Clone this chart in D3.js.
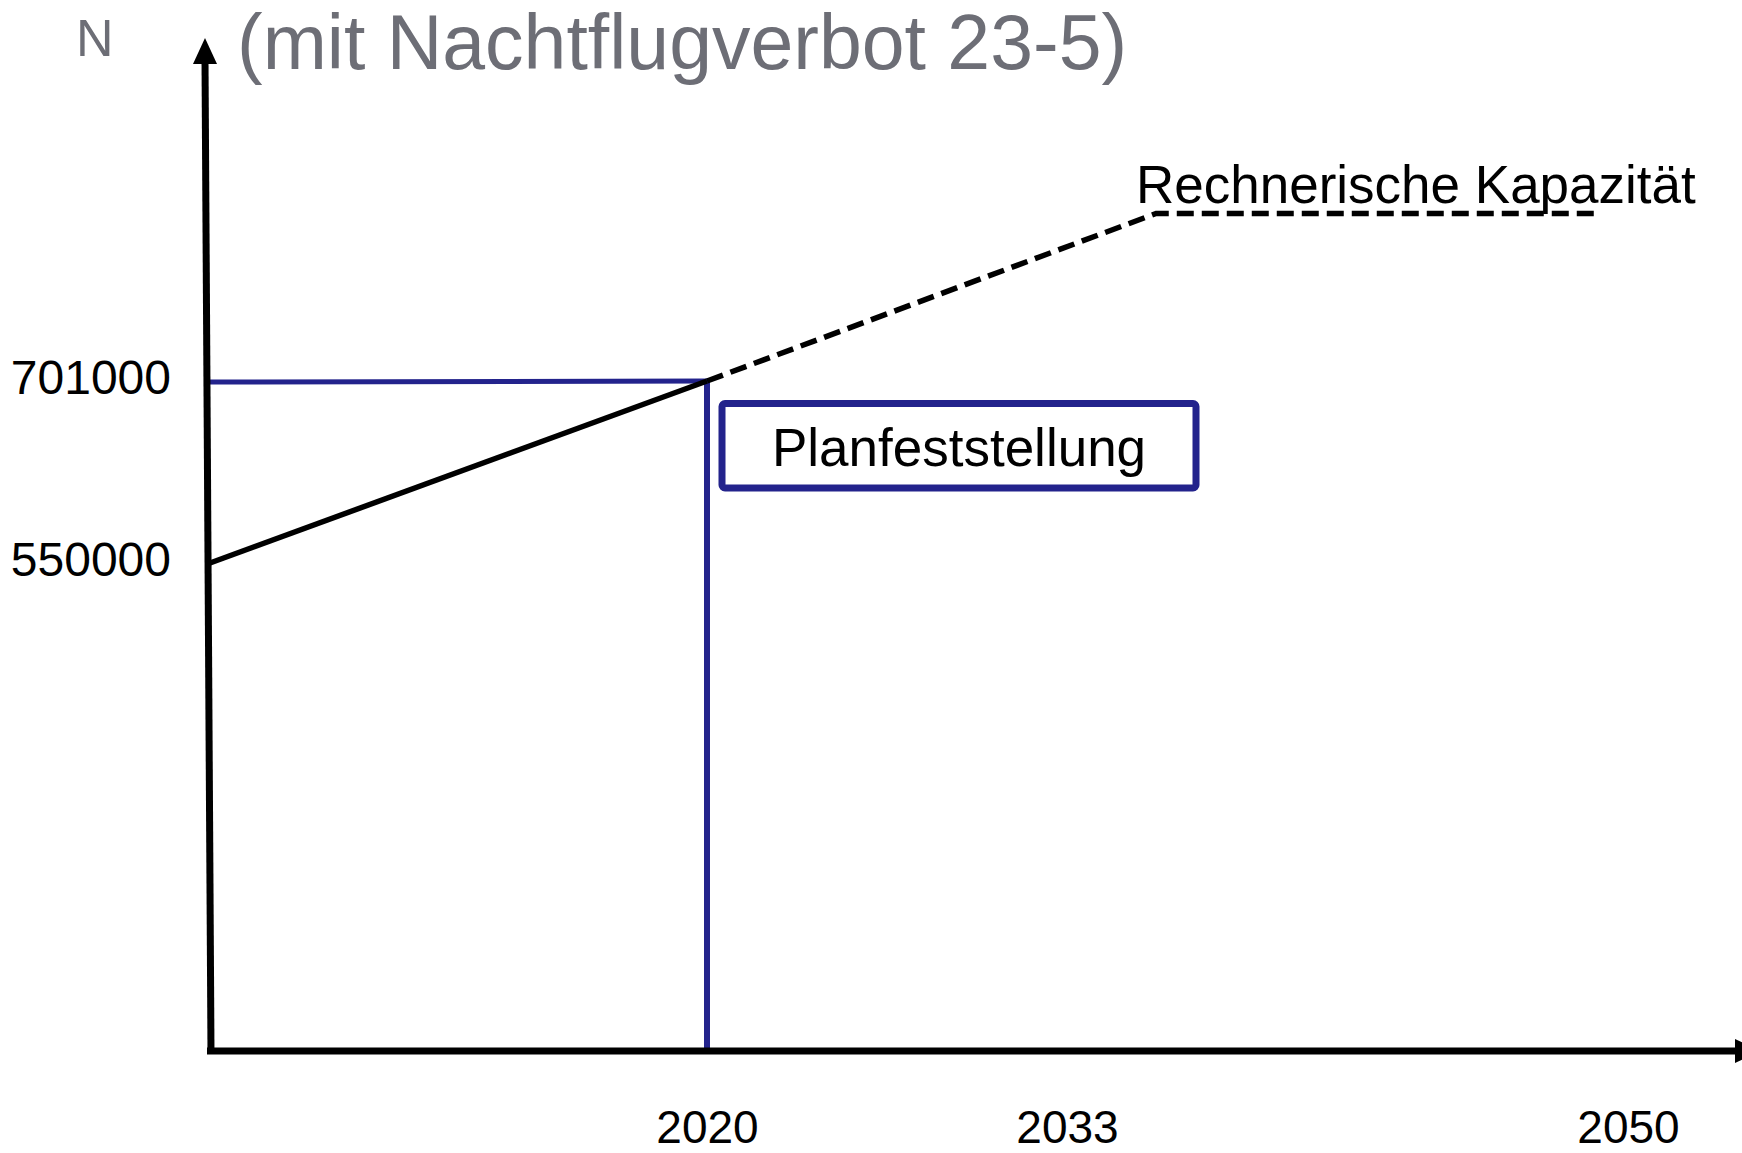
<!DOCTYPE html>
<html>
<head>
<meta charset="utf-8">
<script src="https://cdn.jsdelivr.net/npm/d3@7"></script>
<style>
  html, body { margin: 0; padding: 0; background: #fff; }
  svg { display: block; font-family: "Liberation Sans", Arial, sans-serif; }
</style>
</head>
<body>
<svg id="chart"></svg>
<script>
// values
const xTicks = [2020, 2033, 2050];
const yTicks = [550000, 701000];

// movements up to the plan approval (solid)
const trendYears = [2002, 2020];
const trendValues = [550000, 701000];

// calculated capacity (dashed)
const capYears = [2020, 2035.7, 2049];
const capValues = [701000, 840000, 840000];

const planYear = 2020;
const planValue = 701000;

const width = 1742;
const height = 1153;
const blue = '#23238c';
const grey = '#6d6e76';

const svg = d3.select('#chart')
  .attr('width', width)
  .attr('height', height);

// the time axis is not evenly spaced in the original sketch
const x = d3.scaleLinear()
  .domain([2002, 2020, 2033, 2050])
  .range([210, 707, 1067, 1628]);

const y = d3.scaleLinear()
  .domain([550000, 701000])
  .range([563, 381]);

const x0 = 210, yBase = 1051;

// title and axis letter
svg.append('text')
  .attr('x', 237)
  .attr('y', 69)
  .attr('fill', grey)
  .style('font-size', '77px')
  .text('(mit Nachtflugverbot 23-5)');

svg.append('text')
  .attr('x', 76)
  .attr('y', 56)
  .attr('fill', grey)
  .style('font-size', '52px')
  .text('N');

// blue guide lines to 701000 / 2020
svg.append('line')
  .attr('x1', x0 - 2).attr('x2', x(planYear))
  .attr('y1', y(planValue) + 1).attr('y2', y(planValue))
  .attr('stroke', blue)
  .attr('stroke-width', 5);

svg.append('line')
  .attr('x1', x(planYear)).attr('x2', x(planYear))
  .attr('y1', y(planValue) - 2).attr('y2', yBase)
  .attr('stroke', blue)
  .attr('stroke-width', 6);

// lines
const line = d3.line()
  .x(d => x(d[0]))
  .y(d => y(d[1]));

svg.append('path')
  .datum(d3.zip(trendYears, trendValues))
  .attr('d', line)
  .attr('fill', 'none')
  .attr('stroke', '#000')
  .attr('stroke-width', 5.5);

svg.append('path')
  .datum(d3.zip(capYears, capValues))
  .attr('d', line)
  .attr('fill', 'none')
  .attr('stroke', '#000')
  .attr('stroke-width', 5.5)
  .attr('stroke-dasharray', '17,8');

svg.append('text')
  .attr('x', 1136)
  .attr('y', 203)
  .style('font-size', '53px')
  .text('Rechnerische Kapazität');

// Planfeststellung box
svg.append('rect')
  .attr('x', 722)
  .attr('y', 403.5)
  .attr('width', 474)
  .attr('height', 84.5)
  .attr('rx', 3)
  .attr('fill', 'none')
  .attr('stroke', blue)
  .attr('stroke-width', 7);

svg.append('text')
  .attr('x', 959)
  .attr('y', 466)
  .attr('text-anchor', 'middle')
  .style('font-size', '53px')
  .text('Planfeststellung');

// axes lines with arrows
svg.append('line')
  .attr('x1', 211).attr('y1', yBase + 3)
  .attr('x2', 205).attr('y2', 60)
  .attr('stroke', '#000')
  .attr('stroke-width', 7);

svg.append('path')
  .attr('d', 'M205,38 L193,64 L217,64 Z')
  .attr('fill', '#000');

svg.append('line')
  .attr('x1', 207).attr('y1', yBase)
  .attr('x2', 1738).attr('y2', yBase)
  .attr('stroke', '#000')
  .attr('stroke-width', 7);

svg.append('path')
  .attr('d', `M1760,${yBase} L1735,${yBase - 12} L1735,${yBase + 12} Z`)
  .attr('fill', '#000');

// tick labels through d3 axes, no tick marks
const yAxis = svg.append('g')
  .attr('transform', 'translate(171,0)')
  .call(d3.axisLeft(y).tickValues(yTicks).tickSize(0).tickFormat(d3.format('d')));

yAxis.select('.domain').remove();
yAxis.selectAll('text')
  .attr('x', 0)
  .attr('dy', '0.27em')
  .attr('fill', '#000')
  .style('font-size', '48px')
  .style('font-family', '"Liberation Sans", Arial, sans-serif');

const xAxis = svg.append('g')
  .attr('transform', 'translate(0,1143)')
  .call(d3.axisBottom(x).tickValues(xTicks).tickSize(0).tickFormat(d3.format('d')));

xAxis.select('.domain').remove();
xAxis.selectAll('text')
  .attr('y', 0)
  .attr('dy', 0)
  .attr('fill', '#000')
  .style('font-size', '46px')
  .style('font-family', '"Liberation Sans", Arial, sans-serif');
</script>
</body>
</html>
